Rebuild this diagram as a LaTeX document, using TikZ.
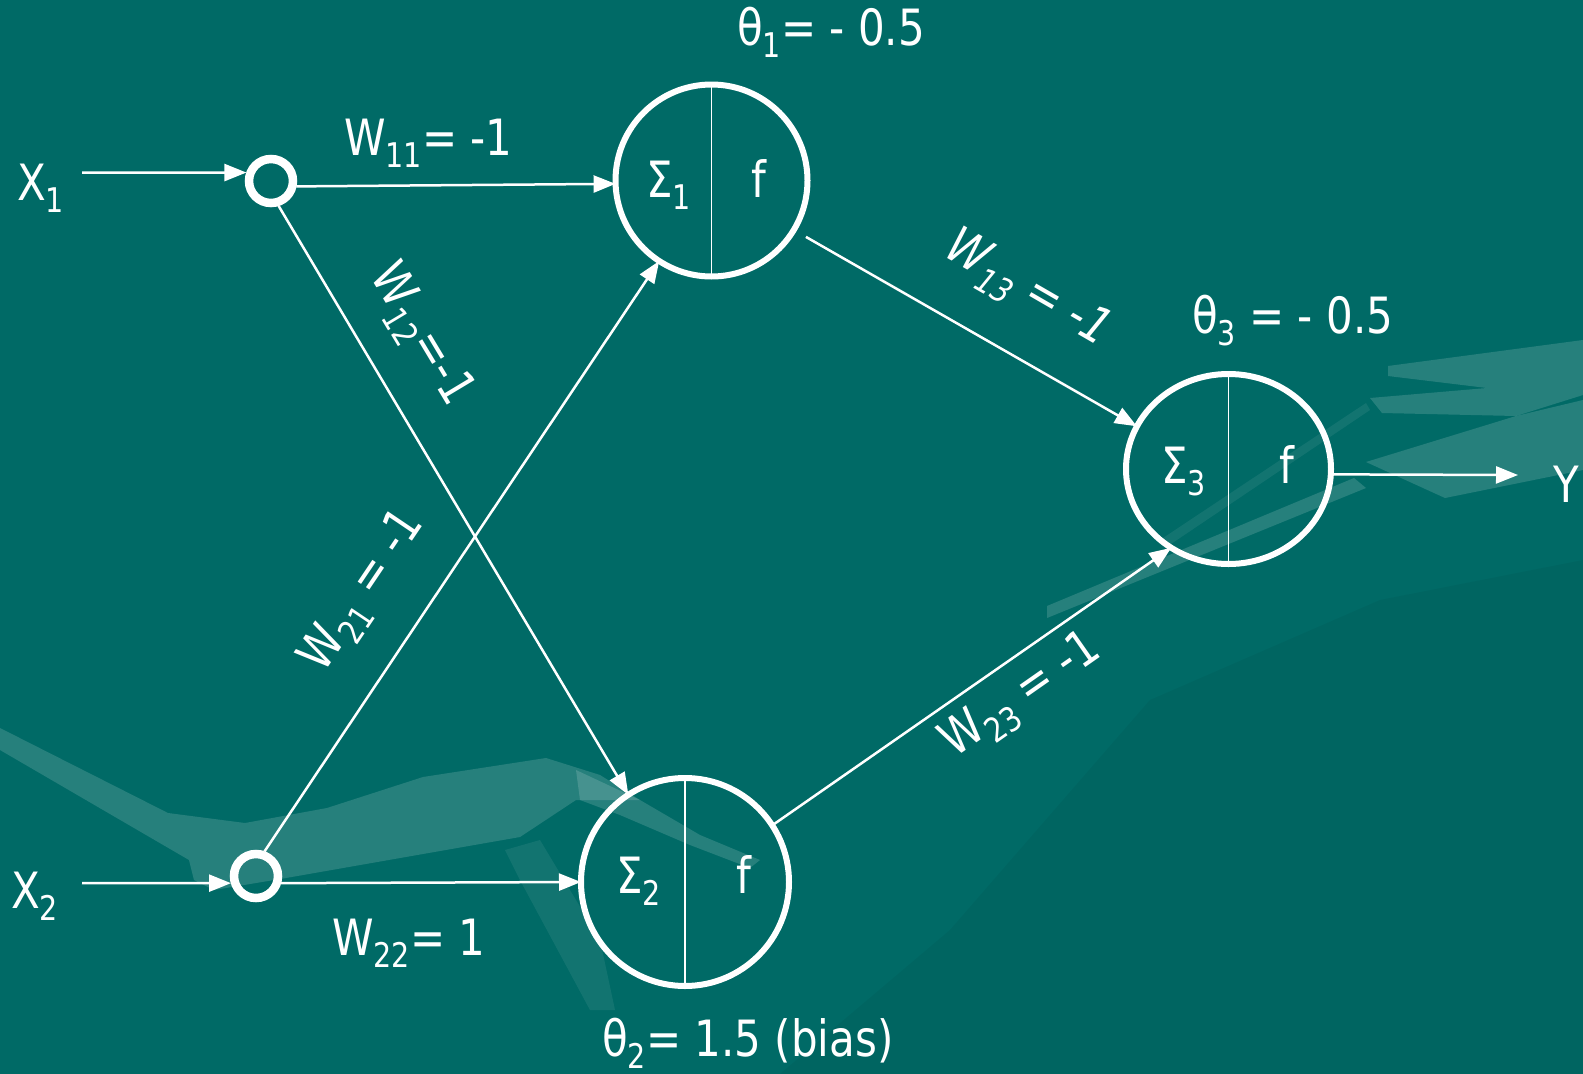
\documentclass[tikz,border=0pt]{standalone}
\usepackage{fontspec}
\setmainfont{DejaVu Sans}[FakeStretch=0.84]
\usetikzlibrary{arrows.meta,shapes.geometric}
\definecolor{bgteal}{RGB}{0,106,102}
\newcommand\lsub[1]{\raisebox{-0.24em}{\fontsize{34}{34}\selectfont #1}}
\begin{document}
\begin{tikzpicture}[x=1pt,y=-1pt,
  lbl/.style={text=white,font=\fontsize{50}{56}\selectfont,inner sep=0pt},
  conn/.style={draw=white,line width=2.5pt,-{Triangle[length=22pt,width=17pt]}},
  neuron/.style={circle,draw=white,line width=6pt,inner sep=0pt,outer sep=0pt},
  inp/.style={circle,draw=white,line width=8.5pt,inner sep=0pt,outer sep=4pt,minimum size=44pt},
  divider/.style={draw=white,line width=1.8pt},
  light/.style={fill=white,fill opacity=0.15},
  faint/.style={fill=white,fill opacity=0.07},
  shade/.style={fill=black,fill opacity=0.045}]
\useasboundingbox (0,0) rectangle (1583,1074);
\clip (0,0) rectangle (1583,1074);
\fill[bgteal] (0,0) rectangle (1583,1074);
% background decoration
\fill[shade] (780,1074) -- (950,930) -- (1150,700) -- (1380,600) -- (1583,560) -- (1583,1074) -- cycle;
\fill[light] (0,728) -- (168,813) -- (245,823) -- (327,808) -- (423,777) -- (546,758) -- (600,775) -- (640,800) -- (576,800) -- (520,837) -- (286,878) -- (214,890) -- (194,880) -- (189,860) -- (0,750) -- cycle;
\fill[light] (576,770) -- (640,800) -- (700,835) -- (760,860) -- (750,868) -- (690,845) -- (620,815) -- (580,800) -- cycle;
\fill[faint] (505,850) -- (540,840) -- (600,940) -- (615,1010) -- (590,1010) -- (520,880) -- cycle;
\fill[light] (1388,366) -- (1583,340) -- (1583,395) -- (1516,416) -- (1382,413) -- (1370,398) -- (1487,388) -- (1388,376) -- cycle;
\fill[light] (1366,462) -- (1516,416) -- (1583,400) -- (1583,470) -- (1445,498) -- cycle;
\fill[light] (1047,606) -- (1354,478) -- (1366,488) -- (1047,618) -- cycle;
\fill[faint] (1160,540) -- (1366,403) -- (1370,410) -- (1165,548) -- cycle;
% nodes
\node[inp] (c1) at (271,181) {};
\node[inp] (c2) at (256,876) {};
\node[neuron,minimum size=192pt] (n1) at (711.5,180.5) {};
\node[neuron,minimum size=208pt] (n2) at (685,882) {};
\node[neuron,ellipse,minimum width=205pt,minimum height=190pt] (n3) at (1228.5,469) {};
\draw[divider] (n1.north) -- (n1.south);
\draw[divider] (n2.north) -- (n2.south);
\draw[divider] (n3.north) -- (n3.south);
% texts
\node[lbl,anchor=base west] (tx1) at (17,200) {X\lsub{1}};
\node[lbl,anchor=base west] (tx2) at (11,908) {X\lsub{2}};
\node[lbl,anchor=base west] (ty) at (1553,502) {Y};
\node[lbl,anchor=base west] (w11) at (344,155) {W\lsub{11}= -1};
\node[lbl,anchor=base west] (w22) at (332,955) {W\lsub{22}= 1};
\node[lbl,anchor=base west] (t1) at (737,45) {θ\lsub{1}= - 0.5};
\node[lbl,anchor=base west] (t3) at (1192,333) {θ\lsub{3} = - 0.5};
\node[lbl,anchor=base west] (t2) at (602,1056) {θ\lsub{2}= 1.5 (bias)};
\node[lbl,anchor=base west] (s1) at (646,197) {Σ\lsub{1}};
\node[lbl,anchor=base west] (f1) at (751,197) {f};
\node[lbl,anchor=base west] (s2) at (616,893) {Σ\lsub{2}};
\node[lbl,anchor=base west] (f2) at (736,893) {f};
\node[lbl,anchor=base west] (s3) at (1161,483) {Σ\lsub{3}};
\node[lbl,anchor=base west] (f3) at (1279,483) {f};
\node[lbl,rotate=-59] (w12) at (420,336) {W\lsub{12}=-1};
\node[lbl,rotate=56] (w21) at (364,592) {W\lsub{21} = -1};
\node[lbl,rotate=-30,font=\fontsize{50}{56}\selectfont\itshape] (w13) at (1027,291) {W\lsub{13} = -1};
\node[lbl,rotate=35] (w23) at (1022,697) {W\lsub{23} = -1};
% connectors
\coordinate (x1s) at (82,172.6);
\coordinate (x2s) at (82,883);
\coordinate (yend) at (1518,475);
\draw[conn] (x1s) -- (c1.161);
\draw[conn] (c1.-12) -- (n1.182);
\draw[conn] (c1.-73) -- (n2.123);
\draw[conn] (c2.71) -- (n1.237);
\draw[conn] (x2s) -- (c2.196);
\draw[conn] (c2.-16) -- (n2.180);
\draw[conn,shorten <=14pt] (n1.-31) -- (n3.155);
\draw[conn] (n2.33) -- (n3.234);
\draw[conn] (n3.-3) -- (yend);
\end{tikzpicture}
\end{document}
